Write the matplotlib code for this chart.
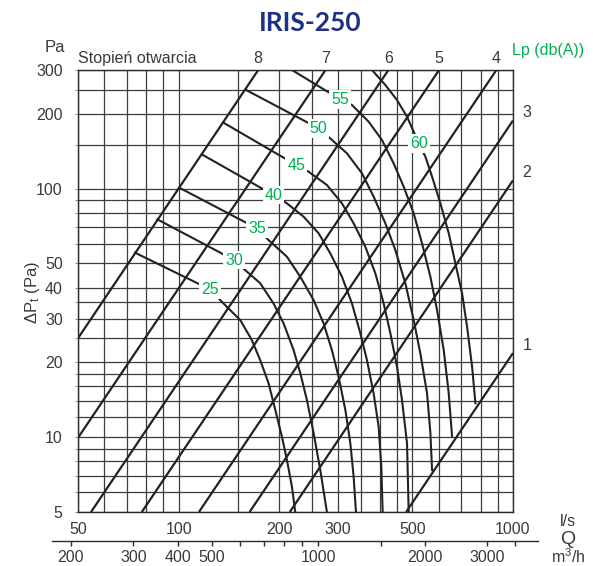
import matplotlib
matplotlib.use('Agg')
import matplotlib.pyplot as plt
from matplotlib.ticker import FixedLocator, FixedFormatter, NullFormatter
import matplotlib.transforms as mtransforms

plt.rcParams['font.family'] = ['Liberation Sans', 'DejaVu Sans']
plt.rcParams['mathtext.fontset'] = 'custom'
plt.rcParams['mathtext.rm'] = 'Liberation Sans'
plt.rcParams['mathtext.it'] = 'Liberation Sans:italic'

# grid (l/s and Pa)
x_grid = [50, 60, 70, 80, 90, 100, 150, 200, 250, 300, 350, 400, 450, 500,
          600, 700, 800, 900, 1000]
x_labels = [50, 100, 200, 300, 500, 1000]
y_grid = [5, 6, 7, 8, 9, 10, 12, 14, 16, 18, 20, 25, 30, 35, 40, 50, 60, 70,
          80, 90, 100, 150, 200, 250, 300]
y_labels = [5, 10, 20, 30, 40, 50, 100, 200, 300]

# m3/h scale under the chart
m3h_major = [200, 300, 400, 500, 1000, 2000, 3000]
m3h_minor = [600, 700, 800, 900, 1500, 3600]

# damper opening positions (Stopien otwarcia): end points of each line
pos_names = ['1', '2', '3', '4', '5', '6', '7', '8']
pos_q_start = [479, 215, 163, 115, 77.6, 54.7, 50, 50]
pos_p_start = [5, 5, 5, 5, 5, 5, 9.94, 25]
pos_q_end = [1000, 1000, 1000, 892, 601, 424, 275, 173]
pos_p_end = [21.8, 108, 188, 300, 300, 300, 300, 300]

# sound level curves Lp dB(A)
lp25_q = [74.1, 124.2, 136.2, 152.8, 165.5, 175.4, 185.7, 194.5, 203.6, 210.8, 218.2, 223.2]
lp25_p = [55.2, 39.3, 34.5, 29.6, 24.6, 20.4, 16.5, 12.9, 10.05, 8.09, 6.32, 5]
lp30_q = [86.4, 146.6, 158.1, 175.4, 192.2, 206.0, 220.7, 231.1, 241.9, 253.3, 265.2, 277.6]
lp30_p = [75.2, 51.6, 47.0, 41.6, 34.5, 28.7, 22.4, 18.1, 14.1, 10.4, 7.38, 5]
lp35_q = [100.5, 171.4, 185.7, 210.8, 231.1, 253.3, 271.3, 287.3, 300.9, 315.1, 326.2, 333.7, 339.1]
lp35_p = [100.8, 69.2, 62.1, 53.2, 44.2, 35.6, 28.7, 22.4, 17.5, 12.9, 9.45, 6.94, 5]
lp40_q = [117.3, 192.2, 210.8, 236.4, 262.2, 284.1, 307.9, 329.9, 349.4, 365.8, 383.0, 396.5, 403.8, 407.5]
lp40_p = [137.3, 94.2, 87.2, 77.1, 66.1, 54.9, 44.2, 34.5, 26.2, 20.4, 15.0, 11.0, 7.61, 5]
lp45_q = [136.2, 224.7, 244.7, 277.6, 307.9, 333.7, 361.6, 387.5, 410.4, 429.7, 449.9, 465.6, 482.0, 487.5]
lp45_p = [184.1, 124.4, 116.9, 103.4, 87.2, 72.5, 58.4, 45.6, 34.5, 26.2, 19.2, 14.1, 9.45, 5]
lp50_q = [159.2, 262.2, 284.1, 318.7, 353.4, 383.0, 415.2, 444.7, 476.5, 504.6, 528.4, 553.3, 566.1, 572.7]
lp50_p = [249.2, 174.7, 159.2, 138.6, 115.2, 92.8, 72.5, 56.6, 41.6, 29.6, 21.7, 15.0, 10.4, 7.38]
lp55_q = [218.2, 304.3, 329.9, 370.1, 405.6, 439.6, 471.0, 504.6, 534.5, 566.1, 592.7, 620.6, 642.4, 657.3]
lp55_p = [300, 228.5, 216.9, 185.8, 156.8, 126.3, 101.8, 79.5, 60.2, 44.2, 32.5, 22.4, 15.0, 10.05]
lp60_q = [378.6, 415.2, 449.9, 482.0, 504.6, 522.4, 547.0, 572.7, 606.5, 642.4, 672.5, 704.2, 728.9, 754.5, 772.0]
lp60_p = [300, 261.0, 227.1, 194.6, 169.3, 152.0, 134.4, 111.7, 87.2, 66.1, 50.0, 37.9, 27.8, 19.2, 13.7]

lp_names = ['25', '30', '35', '40', '45', '50', '55', '60']
lp_label_q = [124.2, 146.6, 171.4, 192.2, 224.7, 262.2, 304.3, 522.4]
lp_label_p = [39.3, 51.6, 69.2, 94.2, 124.4, 174.7, 228.5, 152.0]

GREEN = '#00b050'
TXT = '#3a3a3a'
LINE = '#222222'
FS = 11.5

fig = plt.figure(figsize=(5.93, 5.66), dpi=100)
ax = fig.add_axes([78/593, 1-512/566, 435/593, 442/566])
ax.set_xscale('log')
ax.set_yscale('log')
ax.set_xlim(50, 1000)
ax.set_ylim(5, 300)

ax.xaxis.set_major_locator(FixedLocator(x_grid))
ax.xaxis.set_major_formatter(FixedFormatter([str(v) if v in x_labels else '' for v in x_grid]))
ax.xaxis.set_minor_locator(FixedLocator([]))
ax.yaxis.set_major_locator(FixedLocator(y_grid))
ax.yaxis.set_major_formatter(FixedFormatter([str(v) if v in y_labels else '' for v in y_grid]))
ax.yaxis.set_minor_locator(FixedLocator([]))
ax.grid(True, color='#3c3c3c', lw=0.9)
ax.tick_params(axis='x', length=0, pad=7, labelsize=FS, labelcolor=TXT)
ax.tick_params(axis='y', length=2, width=0.6, color='#777', pad=9, labelsize=FS, labelcolor=TXT)
for s in ax.spines.values():
    s.set_color('#2a2a2a')
    s.set_linewidth(1.0)

# opening lines
for q0, p0, q1, p1 in zip(pos_q_start, pos_p_start, pos_q_end, pos_p_end):
    ax.plot([q0, q1], [p0, p1], color=LINE, lw=1.6, solid_capstyle='butt')

top_tr = mtransforms.blended_transform_factory(ax.transData, ax.transAxes)
right_tr = mtransforms.blended_transform_factory(ax.transAxes, ax.transData)
for name, q1, p1 in zip(pos_names, pos_q_end, pos_p_end):
    if p1 >= 300:
        ax.text(q1, 1.01, name, transform=top_tr, ha='center', va='bottom',
                fontsize=FS, color=TXT)
    else:
        ax.text(1.022, p1, name, transform=right_tr, ha='left', va='bottom',
                fontsize=FS, color=TXT)

# sound curves
curves = [(lp25_q, lp25_p), (lp30_q, lp30_p), (lp35_q, lp35_p), (lp40_q, lp40_p),
          (lp45_q, lp45_p), (lp50_q, lp50_p), (lp55_q, lp55_p), (lp60_q, lp60_p)]
for q, p in curves:
    ax.plot(q, p, color=LINE, lw=1.5, solid_joinstyle='round')

for name, q, p in zip(lp_names, lp_label_q, lp_label_p):
    ax.text(q, p, name, ha='center', va='center', fontsize=FS, color=GREEN,
            zorder=5, bbox=dict(boxstyle='square,pad=0.12', fc='white', ec='none'))

# texts around the axes
ax.text(0.0, 1.01, 'Stopień otwarcia', transform=ax.transAxes, ha='left', va='bottom',
        fontsize=FS, color=TXT)
fig.text(55/593, 1-47/566, 'Pa', ha='center', va='center', fontsize=12, color=TXT)
fig.text(548/593, 1-50/566, 'Lp (db(A))', ha='center', va='center', fontsize=FS, color=GREEN)
fig.text(310/593, 1-23/566, 'IRIS-250', ha='center', va='center', fontsize=19,
         fontweight='bold', color='#1f3086', family=['Lato', 'DejaVu Sans'])
fig.text(32/593, 1-292/566, r'$\Delta$P$_\mathrm{t}$ (Pa)', ha='center', va='center',
         rotation=90, fontsize=12, color=TXT)
fig.text(568/593, 1-522/566, 'l/s', ha='center', va='center', fontsize=FS, color=TXT)
fig.text(568/593, 1-540/566, 'Q', ha='center', va='center', fontsize=14, color=TXT)
fig.text(568/593, 1-557/566, 'm$^3$/h', ha='center', va='center', fontsize=FS, color=TXT)

# m3/h scale
ax2 = fig.add_axes([52/593, 1-541/566, 486/593, 0.0001])
ax2.set_xscale('log')
ax2.set_xlim(176.8, 4170)
ax2.patch.set_visible(False)
for s in ['top', 'left', 'right']:
    ax2.spines[s].set_visible(False)
ax2.spines['bottom'].set_color('#2a2a2a')
ax2.spines['bottom'].set_linewidth(1.0)
ax2.set_yticks([])
ax2.xaxis.set_major_locator(FixedLocator(m3h_major))
ax2.xaxis.set_major_formatter(FixedFormatter([str(v) for v in m3h_major]))
ax2.xaxis.set_minor_locator(FixedLocator(m3h_minor))
ax2.xaxis.set_minor_formatter(NullFormatter())
ax2.tick_params(axis='x', which='both', length=3.5, width=1.0, color='#2a2a2a',
                pad=3, labelsize=FS, labelcolor=TXT)

fig.savefig('out.png', dpi=100)
